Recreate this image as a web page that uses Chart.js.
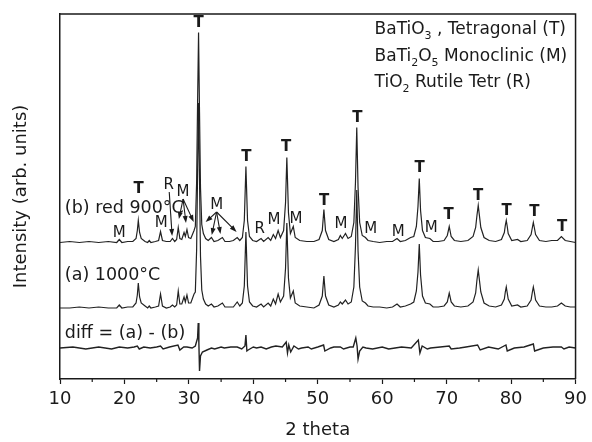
<!DOCTYPE html>
<html>
<head>
<meta charset="utf-8">
<script src="https://cdn.jsdelivr.net/npm/chart.js@4/dist/chart.umd.min.js"></script>
<style>
  body { margin: 0; background: #fff; }
  #chart { display: block; }
</style>
</head>
<body>
<canvas id="chart" width="592" height="442"></canvas>
<script>
// 2 theta sampling points shared by the two patterns
const twoTheta = [
  10.0, 11.5, 13.0, 14.5, 16.0, 17.5, 18.8, 19.2, 19.6, 20.5, 21.3, 21.8, 22.0, 22.15, 22.35, 22.6,
  23.2, 23.6, 23.85, 24.1, 24.8, 25.3, 25.6, 25.9, 26.5, 27.1, 27.45, 27.8, 28.1, 28.35, 28.6, 28.9,
  29.25, 29.45, 29.7, 29.95, 30.3, 30.8, 31.0, 31.2, 31.35, 31.5, 31.65, 31.8, 32.0, 32.25, 32.6, 33.0,
  33.5, 33.9, 34.5, 35.2, 35.6, 36.3, 36.9, 37.5, 37.9, 38.3, 38.6, 38.85, 39.1, 39.4, 39.9, 40.5,
  41.2, 41.6, 42.3, 42.7, 43.1, 43.45, 43.85, 44.2, 44.7, 45.0, 45.2, 45.45, 45.75, 46.2, 46.5, 47.2,
  48.3, 49.4, 50.2, 50.7, 50.95, 51.2, 51.7, 52.5, 53.2, 53.5, 53.8, 54.3, 54.7, 55.2, 55.6, 55.85,
  56.05, 56.25, 56.5, 56.9, 57.4, 57.8, 58.6, 59.6, 60.7, 61.6, 62.3, 62.8, 63.6, 64.4, 64.9, 65.3,
  65.55, 65.75, 65.95, 66.25, 66.7, 67.4, 67.9, 68.7, 69.6, 70.1, 70.4, 70.7, 71.2, 72.2, 73.3, 74.1,
  74.5, 74.7, 74.9, 75.1, 75.3, 75.8, 76.6, 77.6, 78.5, 78.95, 79.1, 79.25, 79.4, 79.55, 80.1, 81.0,
  81.5, 82.5, 83.1, 83.3, 83.45, 83.6,
  83.8, 84.4, 85.4, 86.3, 87.2, 87.8, 88.4, 89.2, 90.0
];
// (b) reduced at 900 °C, intensity above its own baseline
const intensity900 = [
  0, 1, 0, 1, 0, 1, 0, 3, 0, 1, 1, 4, 12, 22, 10, 4,
  1, 0, 2, 0, 1, 2, 11, 2, 1, 1, 4, 1, 3, 15, 4, 3,
  10, 6, 13, 5, 4, 12, 16, 60, 140, 210, 130, 55, 18, 9, 4, 2,
  5, 1, 2, 5, 1, 1, 2, 5, 2, 5, 22, 76, 22, 6, 2, 1,
  4, 1, 5, 2, 8, 4, 12, 5, 12, 40, 85, 30, 9, 16, 5, 2,
  1, 1, 3, 12, 33, 12, 3, 1, 3, 7, 4, 9, 4, 6, 20, 60,
  115, 55, 20, 7, 5, 2, 1, 0, 1, 1, 4, 1, 2, 5, 6, 16,
  36, 64, 32, 12, 5, 4, 1, 1, 2, 7, 16, 6, 2, 1, 2, 6,
  15, 27, 37, 26, 15, 5, 2, 1, 3, 10, 17, 22, 16, 9, 2, 3,
  1, 2, 8, 15, 20, 15,
  8, 2, 1, 2, 2, 6, 2, 1, 0
];
// (a) 1000 °C
const intensity1000 = [
  0, 0, 1, 0, 1, 0, 0, 3, 0, 1, 1, 5, 13, 25, 11, 5,
  2, 0, 2, 0, 1, 2, 14, 2, 0, 1, 3, 1, 3, 17, 4, 4,
  11, 6, 13, 5, 5, 14, 16, 58, 136, 205, 128, 52, 18, 9, 4, 2,
  4, 1, 2, 5, 1, 1, 1, 6, 2, 5, 22, 76, 22, 6, 2, 1,
  4, 1, 5, 2, 9, 4, 14, 6, 12, 40, 85, 30, 10, 17, 5, 2,
  1, 0, 3, 12, 32, 12, 3, 1, 3, 6, 4, 8, 4, 6, 21, 62,
  118, 57, 21, 7, 5, 2, 1, 1, 0, 1, 4, 1, 2, 4, 6, 17,
  36, 64, 33, 12, 5, 4, 1, 1, 2, 6, 15, 6, 2, 1, 2, 6,
  15, 28, 38, 27, 16, 5, 2, 1, 3, 9, 16, 21, 15, 9, 2, 3,
  1, 2, 8, 16, 21, 16,
  8, 2, 1, 1, 2, 5, 2, 1, 1
];
// diff = (a) - (b)
const diffTheta = [
  10.0, 12.0, 14.0, 16.0, 18.0, 19.2, 20.5, 21.5, 22.0, 22.3, 23.0, 24.0, 25.0, 25.6, 26.0, 27.0,
  28.3, 28.6, 29.2, 29.7, 30.5, 31.0, 31.35, 31.45, 31.55, 31.65, 31.8, 32.1, 32.8, 33.5, 34.0, 35.0,
  35.5, 36.5, 37.5, 38.2, 38.7, 38.85, 39.0, 39.2, 40.0, 40.5, 41.2, 42.0, 42.8, 43.5, 44.5, 45.1,
  45.3, 45.5, 45.8, 46.3, 47.0, 47.5, 48.5, 49.0, 50.0, 50.9, 51.1, 52.0, 52.5, 53.5, 54.0, 55.0,
  55.5, 55.9, 56.1, 56.25, 56.5, 57.0, 57.5, 58.5, 60.0, 61.0, 62.0, 63.0, 64.5, 65.6, 65.85, 66.2,
  67.0, 67.5, 69.0, 70.4, 70.7, 72.0, 73.0, 74.8, 75.2, 76.5, 78.0, 79.2, 79.4, 80.5, 82.0, 83.45,
  83.65, 85.0, 86.5, 87.8, 88.2, 89.0, 90.0
];
const diffIntensity = [
  0, 1, -1, 1, -1, 1, 0, 1, 2, -1, 1, 0, 1, 2, -1, 1,
  3, -2, 1, 1, 0, 2, 10, 25, 5, -23, -8, -4, -2, 0, -1, 1,
  0, 1, 1, -1, 2, 13, -3, -2, 1, 0, 1, -1, 1, 2, 1, 6,
  -5, 3, -4, 2, -1, 0, 1, -1, 1, 3, -3, 0, 1, 1, -1, 1,
  1, 10, 2, -11, -3, 1, 0, -1, 1, -1, 0, 1, 0, 8, -5, 2,
  -1, 0, 1, 2, -1, 0, 1, 3, -2, 1, -1, 3, -3, 0, 1, 4,
  -3, 0, 1, 1, -1, 1, 0
];

const xTickValues = [10, 20, 30, 40, 50, 60, 70, 80, 90];
const xMinorTicks = [15, 25, 35, 45, 55, 65, 75, 85];

// vertical offsets of the stacked traces
const offset900 = 136.5;
const offset1000 = 71;
const offsetDiff = 31;

// reflection marks [text, 2theta, y]
const phaseMarks = [
  ['T', 22.2, 190], ['T', 31.5, 356], ['T', 38.9, 222], ['T', 45.1, 232], ['T', 51.0, 178],
  ['T', 56.15, 261], ['T', 65.8, 211], ['T', 70.3, 164], ['T', 74.9, 183], ['T', 79.3, 168],
  ['T', 83.6, 167], ['T', 87.9, 152],
  ['M', 19.2, 146], ['M', 25.7, 156], ['R', 26.85, 194], ['M', 29.1, 187], ['M', 34.3, 174],
  ['R', 41.0, 150], ['M', 43.2, 159], ['M', 46.6, 160], ['M', 53.6, 155], ['M', 58.2, 150],
  ['M', 62.5, 147], ['M', 67.6, 151]
];
// arrows [from 2theta, from y, to 2theta, to y]
const markArrows = [
  [26.95, 187, 27.4, 143],
  [29.1, 180, 28.45, 160], [29.1, 180, 29.55, 156], [29.1, 180, 30.75, 157],
  [34.3, 167, 32.6, 157], [34.3, 167, 33.55, 144], [34.3, 167, 34.9, 145], [34.3, 167, 37.4, 147]
];
const traceLabels = [
  ['(b) red 900°C', 10.75, 171],
  ['(a) 1000°C', 10.75, 104],
  ['diff = (a) - (b)', 10.75, 46]
];
const phaseKey = [
  [['BaTiO', 0], ['3', 1], [' , Tetragonal (T)', 0]],
  [['BaTi', 0], ['2', 1], ['O', 0], ['5', 1], [' Monoclinic (M)', 0]],
  [['TiO', 0], ['2', 1], [' Rutile Tetr (R)', 0]]
];

Chart.defaults.font.family = "'DejaVu Sans', sans-serif";
Chart.defaults.color = '#1a1a1a';

function toPoints(xs, ys, off) {
  return xs.map((x, i) => ({ x: x, y: ys[i] + off }));
}

function drawArrow(ctx, x1, y1, x2, y2) {
  const ang = Math.atan2(y2 - y1, x2 - x1);
  ctx.beginPath();
  ctx.moveTo(x1, y1);
  ctx.lineTo(x2 - 4 * Math.cos(ang), y2 - 4 * Math.sin(ang));
  ctx.stroke();
  ctx.beginPath();
  ctx.moveTo(x2, y2);
  ctx.lineTo(x2 - 7 * Math.cos(ang) + 2.5 * Math.sin(ang), y2 - 7 * Math.sin(ang) - 2.5 * Math.cos(ang));
  ctx.lineTo(x2 - 7 * Math.cos(ang) - 2.5 * Math.sin(ang), y2 - 7 * Math.sin(ang) + 2.5 * Math.cos(ang));
  ctx.closePath();
  ctx.fill();
}

const decorPlugin = {
  id: 'decor',
  afterDraw(chart) {
    const ctx = chart.ctx;
    const xs = chart.scales.x, ys = chart.scales.y;
    const a = chart.chartArea;
    ctx.save();
    ctx.strokeStyle = '#1a1a1a';
    ctx.fillStyle = '#1a1a1a';
    // top and right frame
    ctx.lineWidth = 1.5;
    ctx.beginPath();
    ctx.moveTo(a.left, a.top);
    ctx.lineTo(a.right, a.top);
    ctx.lineTo(a.right, a.bottom);
    ctx.stroke();
    // minor ticks
    ctx.lineWidth = 1.2;
    xMinorTicks.forEach(v => {
      const px = xs.getPixelForValue(v);
      ctx.beginPath();
      ctx.moveTo(px, a.bottom);
      ctx.lineTo(px, a.bottom + 3);
      ctx.stroke();
    });
    // phase marks
    ctx.textAlign = 'center';
    ctx.textBaseline = 'middle';
    phaseMarks.forEach(m => {
      ctx.font = m[0] === 'T' ? "bold 15px 'DejaVu Sans'" : "15px 'DejaVu Sans'";
      ctx.fillText(m[0], xs.getPixelForValue(m[1]), ys.getPixelForValue(m[2]));
    });
    ctx.lineWidth = 1.1;
    markArrows.forEach(r => {
      drawArrow(ctx, xs.getPixelForValue(r[0]), ys.getPixelForValue(r[1]),
        xs.getPixelForValue(r[2]), ys.getPixelForValue(r[3]));
    });
    // trace labels
    ctx.textAlign = 'left';
    ctx.font = "17.5px 'DejaVu Sans'";
    traceLabels.forEach(t => {
      ctx.fillText(t[0], xs.getPixelForValue(t[1]), ys.getPixelForValue(t[2]));
    });
    // phase key, top right
    ctx.textBaseline = 'alphabetic';
    const keyLeft = a.right - 201;
    phaseKey.forEach((line, i) => {
      let x = keyLeft;
      const y = a.top + 20 + i * 26.7;
      line.forEach(seg => {
        ctx.font = seg[1] ? "11px 'DejaVu Sans'" : "17px 'DejaVu Sans'";
        ctx.fillText(seg[0], x, y + (seg[1] ? 5 : 0));
        x += ctx.measureText(seg[0]).width;
      });
    });
    ctx.restore();
  }
};

new Chart(document.getElementById('chart'), {
  type: 'line',
  data: {
    datasets: [
      { data: toPoints(twoTheta, intensity900, offset900) },
      { data: toPoints(twoTheta, intensity1000, offset1000) },
      { data: toPoints(diffTheta, diffIntensity, offsetDiff), borderWidth: 1.4 }
    ]
  },
  options: {
    responsive: false,
    devicePixelRatio: 1,
    animation: false,
    layout: { padding: { top: 14, right: 12, left: 0, bottom: 0 } },
    elements: {
      line: { borderColor: '#222', borderWidth: 1.2, tension: 0 },
      point: { radius: 0 }
    },
    plugins: { legend: { display: false }, tooltip: { enabled: false } },
    scales: {
      x: {
        type: 'linear',
        min: 10,
        max: 90,
        afterBuildTicks: axis => { axis.ticks = xTickValues.map(v => ({ value: v })); },
        afterFit: axis => { axis.height = 63; },
        ticks: { font: { size: 18 }, padding: 5, maxRotation: 0, autoSkip: false, color: '#1a1a1a' },
        grid: { drawOnChartArea: false, drawTicks: true, tickLength: 5, tickWidth: 1.2, tickColor: '#1a1a1a' },
        border: { color: '#1a1a1a', width: 1.5 },
        title: { display: true, text: '2 theta', font: { size: 18 }, padding: { top: 0, bottom: 1 }, color: '#1a1a1a' }
      },
      y: {
        min: 0,
        max: 365,
        afterFit: axis => { axis.width = 60; },
        ticks: { display: false },
        grid: { display: false },
        border: { color: '#1a1a1a', width: 1.5 },
        title: { display: true, text: 'Intensity (arb. units)', font: { size: 18 }, padding: { top: 11, bottom: 0 }, color: '#1a1a1a' }
      }
    }
  },
  plugins: [decorPlugin]
});
</script>
</body>
</html>
